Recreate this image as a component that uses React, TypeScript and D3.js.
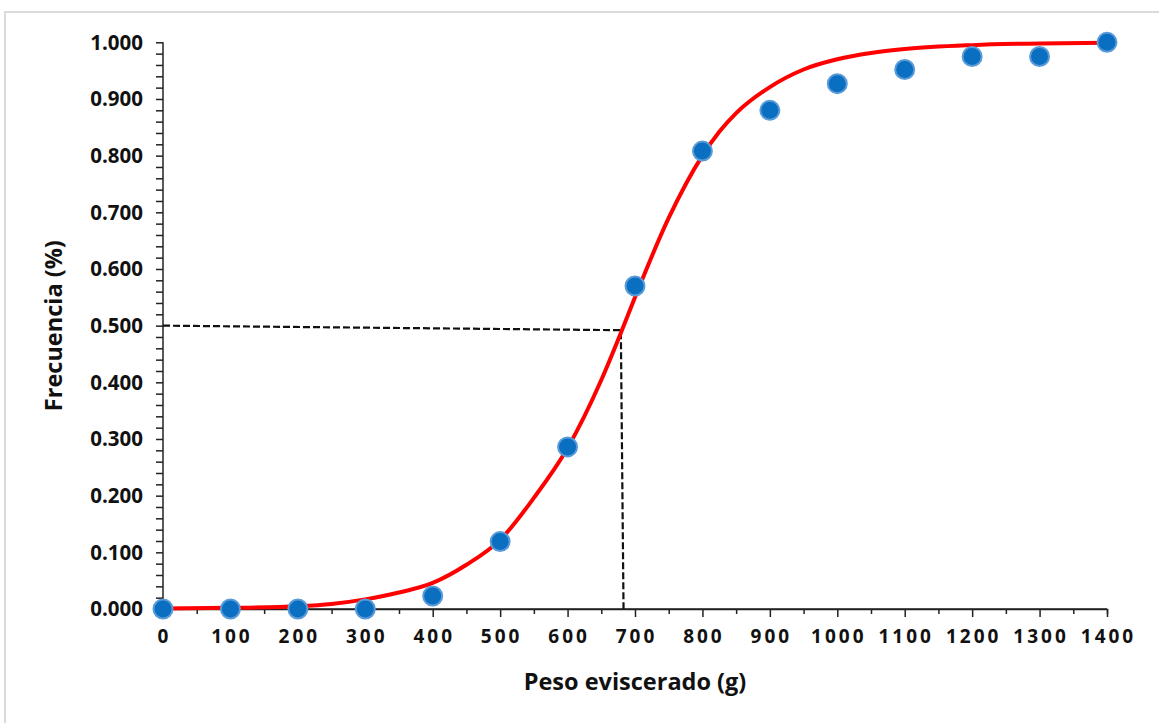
import * as d3 from "d3";
import { useEffect, useRef } from "react";

// observed cumulative frequency
const pesoX = [0, 100, 200, 300, 400, 500, 600, 700, 800, 900, 1000, 1100, 1200, 1300, 1400];
const frecuencia = [0, 0, 0, 0, 0.023, 0.119, 0.286, 0.57, 0.808, 0.88, 0.927, 0.952, 0.975, 0.975, 1.0];

// fitted curve
const curvaX = [0, 100, 200, 250, 300, 350, 400, 450, 500, 550, 600, 650, 680, 700, 750, 800, 825, 850, 900, 950, 1000, 1050, 1100, 1200, 1300, 1400];
const curvaY = [0.001, 0.002, 0.005, 0.009, 0.017, 0.029, 0.046, 0.078, 0.122, 0.196, 0.284, 0.404, 0.49, 0.55, 0.69, 0.8, 0.842, 0.875, 0.921, 0.952, 0.97, 0.981, 0.988, 0.995, 0.998, 0.999];

// dashed guide for the 50% weight
const guiaX = [0, 679, 683];
const guiaY = [0.5, 0.492, 0];

const xTicks = d3.range(0, 1401, 100);
const yTicks = d3.range(0, 1.0001, 0.1);

const width = 1159;
const height = 723;
const marginLeft = 163;
const marginRight = 52;
const marginTop = 42.3;
const marginBottom = 114;
const font = "'Open Sans', 'DejaVu Sans', sans-serif";

export default function App() {
  const svgRef = useRef<SVGSVGElement>(null);

  useEffect(() => {
    if (!svgRef.current) return;
    const svg = d3.select(svgRef.current);
    svg.selectAll("*").remove();

    const x = d3.scaleLinear([0, 1400], [marginLeft, width - marginRight]);
    const y = d3.scaleLinear([0, 1], [height - marginBottom, marginTop]);

    // outer frame
    svg
      .append("rect")
      .attr("x", 5)
      .attr("y", 12)
      .attr("width", width + 20)
      .attr("height", height + 20)
      .attr("fill", "#fff")
      .attr("stroke", "#d9d9d9")
      .attr("stroke-width", 2);

    // y axis
    const yAxis = d3
      .axisLeft(y)
      .tickValues(d3.range(0, 1.0001, 0.02))
      .tickSize(7)
      .tickFormat(() => "");
    svg
      .append("g")
      .attr("transform", `translate(${marginLeft},0)`)
      .call(yAxis)
      .call((g) => g.select(".domain").attr("d", `M0,${y(1)}V${y(0)}`))
      .call((g) => g.selectAll("path, line").attr("stroke", "#222").attr("stroke-width", 1.5));

    svg
      .append("g")
      .selectAll("text")
      .data(yTicks)
      .join("text")
      .attr("x", 143)
      .attr("y", (d) => y(d))
      .attr("dy", "0.36em")
      .attr("text-anchor", "end")
      .attr("font-family", font)
      .attr("font-weight", 700)
      .attr("font-size", 20.5)
      .attr("fill", "#111")
      .text(d3.format(".3f"));

    // x axis: major and minor ticks
    const xAxisMinor = d3
      .axisBottom(x)
      .tickValues(d3.range(50, 1400, 100))
      .tickSize(5)
      .tickFormat(() => "");
    const xAxis = d3.axisBottom(x).tickValues(xTicks).tickSize(8).tickFormat(() => "");
    svg
      .append("g")
      .attr("transform", `translate(0,${y(0)})`)
      .call(xAxisMinor)
      .call((g) => g.selectAll("path, line").attr("stroke", "#222").attr("stroke-width", 1.5));
    svg
      .append("g")
      .attr("transform", `translate(0,${y(0)})`)
      .call(xAxis)
      .call((g) => g.select(".domain").attr("d", `M${x(0)},0H${x(1400)}`))
      .call((g) => g.selectAll("path, line").attr("stroke", "#222").attr("stroke-width", 1.5));

    svg
      .append("g")
      .selectAll("text")
      .data(xTicks)
      .join("text")
      .attr("x", (d) => x(d) + 1.5)
      .attr("y", 643)
      .attr("text-anchor", "middle")
      .attr("font-family", font)
      .attr("font-weight", 700)
      .attr("font-size", 19)
      .attr("letter-spacing", 3)
      .attr("fill", "#111")
      .text((d) => String(d));

    // axis titles
    svg
      .append("text")
      .attr("x", (x(0) + x(1400)) / 2)
      .attr("y", 690)
      .attr("text-anchor", "middle")
      .attr("font-family", font)
      .attr("font-weight", 700)
      .attr("font-size", 23.5)
      .attr("fill", "#111")
      .text("Peso eviscerado (g)");

    svg
      .append("text")
      .attr("transform", `translate(62,${(y(0) + y(1)) / 2}) rotate(-90)`)
      .attr("text-anchor", "middle")
      .attr("font-family", font)
      .attr("font-weight", 700)
      .attr("font-size", 23.5)
      .attr("fill", "#111")
      .text("Frecuencia (%)");

    // dashed guide
    const guia = d3
      .line<number>()
      .x((i) => x(guiaX[i]))
      .y((i) => y(guiaY[i]));
    svg
      .append("path")
      .attr("d", guia(d3.range(guiaX.length)))
      .attr("fill", "none")
      .attr("stroke", "#111")
      .attr("stroke-width", 2.2)
      .attr("stroke-dasharray", "7,3");

    // fitted curve
    const curva = d3
      .line<number>()
      .x((i) => x(curvaX[i]))
      .y((i) => y(curvaY[i]))
      .curve(d3.curveMonotoneX);
    svg
      .append("path")
      .attr("d", curva(d3.range(curvaX.length)))
      .attr("fill", "none")
      .attr("stroke", "#ff0000")
      .attr("stroke-width", 4);

    // observed points
    svg
      .append("g")
      .selectAll("circle")
      .data(d3.range(pesoX.length))
      .join("circle")
      .attr("cx", (i) => x(pesoX[i]))
      .attr("cy", (i) => y(frecuencia[i]))
      .attr("r", 9.5)
      .attr("fill", "#0b6fc1")
      .attr("stroke", "#5a9bd8")
      .attr("stroke-width", 2);
  }, []);

  return (
    <svg
      ref={svgRef}
      width={width}
      height={height}
      style={{ position: "absolute", left: 0, top: 0, background: "#fff" }}
    />
  );
}
